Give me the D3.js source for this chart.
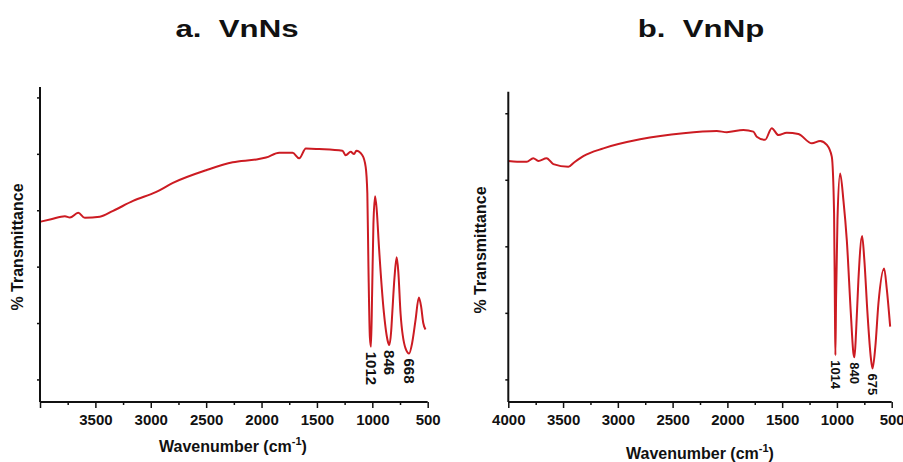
<!DOCTYPE html>
<html>
<head>
<meta charset="utf-8">
<script src="https://cdn.jsdelivr.net/npm/d3@7"></script>
<style>
  body { margin: 0; background: #fff; }
  text { font-family: "Liberation Sans", Arial, sans-serif; font-weight: bold; fill: #111; }
</style>
</head>
<body>
<svg id="chart" width="903" height="462"></svg>
<script>
// Panel a: VnNs  (wavenumber cm-1, transmittance, arbitrary units)
const wnA = [4000, 3900, 3775, 3730, 3655, 3595, 3460, 3340, 3160, 2950, 2800, 2500, 2260, 2050, 1960,
  1840, 1720, 1660, 1600, 1480, 1270, 1240, 1195, 1165, 1144, 1090, 1060, 1045, 1035, 1022, 1012,
  1002, 990, 975, 960, 940, 895, 860, 846, 830, 820, 800, 780, 765, 745, 700, 668, 640, 610, 580, 560, 540, 520];
const trA = [55.9, 56.8, 57.9, 57.4, 59.1, 57.3, 57.7, 59.8, 63.3, 66.5, 69.7, 74.2, 77.0, 78.0, 78.7,
  80.4, 80.4, 78.4, 81.9, 81.7, 81.1, 79.5, 80.7, 79.9, 81.1, 79.5, 75.4, 66.0, 40.0, 15.0, 11.6,
  30.0, 55.0, 65.0, 60.0, 47.0, 23.5, 13.5, 12.2, 17.0, 23.4, 36.0, 43.3, 38.0, 23.4, 11.0, 9.2, 13.0, 21.0, 29.1, 26.0, 20.0, 17.7];
const peaksA = [1012, 846, 668];

// Panel b: VnNp
const wnB = [4000, 3920, 3832, 3772, 3726, 3650, 3589, 3452, 3400, 3315, 3132, 2797, 2402, 2097, 2005,
  1854, 1763, 1732, 1656, 1595, 1534, 1458, 1352, 1229, 1153, 1092, 1047, 1026, 1018, 1014,
  1008, 995, 971, 940, 910, 873, 850, 840, 825, 804, 770, 750, 721, 690, 675, 650, 621, 569, 545, 514];
const trB = [82.1, 81.8, 81.8, 83.1, 82.1, 83.1, 80.9, 79.9, 81.5, 83.9, 86.8, 90.2, 92.5, 93.3, 92.9,
  93.7, 93.1, 91.2, 90.0, 94.4, 91.8, 92.7, 92.2, 88.7, 89.6, 88.1, 83.7, 62.4, 25.0, 9.1,
  30.0, 60.0, 77.4, 67.0, 52.4, 24.8, 10.0, 8.3, 18.0, 37.3, 53.9, 45.0, 24.8, 8.0, 4.1, 12.0, 28.6, 41.7, 34.0, 19.8];
const peaksB = [1014, 840, 675];

const majorTicks = [4000, 3500, 3000, 2500, 2000, 1500, 1000, 500];
const minorTicks = [3750, 3250, 2750, 2250, 1750, 1250, 750];

const svg = d3.select("#chart");

function drawPanel(p) {
  const x = d3.scaleLinear().domain([4000, 500]).range([p.left, p.right]);
  const y = d3.scaleLinear().domain(p.yDomain).range([p.bottom, p.top]);
  const g = svg.append("g");

  // title (glyphs in the original are wide, so stretch horizontally)
  g.append("text")
    .attr("transform", `translate(${p.titleX},37) scale(1.3,1)`)
    .attr("text-anchor", "middle")
    .style("font-size", "24px")
    .style("white-space", "pre")
    .text(p.title);

  // curve
  const data = p.wn.map((w, i) => ({ w: w, t: p.tr[i] }));
  g.append("path")
    .datum(data)
    .attr("fill", "none")
    .attr("stroke", "#cc1b22")
    .attr("stroke-width", 2)
    .attr("stroke-linejoin", "round")
    .attr("d", d3.line().x(d => x(d.w)).y(d => y(d.t)).curve(d3.curveMonotoneX));

  // peak labels
  p.peaks.forEach(w => {
    const i = p.wn.indexOf(w);
    g.append("text")
      .attr("transform", `translate(${x(w)},${y(p.tr[i]) + 5}) rotate(90)`)
      .attr("dy", "0.35em")
      .style("font-size", p.peakFont)
      .text(w);
  });

  // x axis
  const xAxis = g.append("g")
    .attr("transform", `translate(0,${p.bottom})`)
    .call(d3.axisBottom(x).tickValues(majorTicks).tickSize(6).tickPadding(6)
      .tickFormat(d => (d === 4000 && !p.show4000) ? "" : d));
  xAxis.select(".domain").attr("d", `M${p.left},0H${p.right}`);
  g.append("g")
    .attr("transform", `translate(0,${p.bottom})`)
    .call(d3.axisBottom(x).tickValues(minorTicks).tickSize(3).tickFormat(""))
    .select(".domain").remove();
  xAxis.selectAll("text").style("font-size", "15px").style("fill", "#111");

  // y axis
  const yAxis = g.append("g")
    .attr("transform", `translate(${p.left},0)`)
    .call(d3.axisLeft(y).tickValues(p.yTicks).tickSize(3).tickFormat(""));
  yAxis.select(".domain").attr("d", `M0,${p.top}V${p.bottom}`);

  g.selectAll(".domain").attr("stroke", "#111").attr("stroke-width", 2);
  g.selectAll(".tick line").attr("stroke", "#111").attr("stroke-width", 1.5);

  // axis labels
  g.append("text")
    .attr("transform", `translate(${p.yLabelX},${p.yLabelY}) rotate(-90)`)
    .attr("text-anchor", "middle")
    .attr("dy", "0.35em")
    .style("font-size", "16px")
    .text("% Transmittance");

  const xl = g.append("text")
    .attr("x", p.xLabelX).attr("y", p.xLabelY)
    .attr("text-anchor", "middle")
    .style("font-size", "16px");
  xl.append("tspan").text("Wavenumber (cm");
  xl.append("tspan").attr("dy", -7).style("font-size", "11px").text("-1");
  xl.append("tspan").attr("dy", 7).text(")");
}

drawPanel({
  title: "a.  VnNs", titleX: 237,
  wn: wnA, tr: trA, peaks: peaksA, peakFont: "15px",
  left: 40, right: 427.7, top: 87, bottom: 402,
  yDomain: [-8, 103.7], yTicks: [0, 20, 40, 60, 80, 100],
  show4000: false,
  yLabelX: 17, yLabelY: 247, xLabelX: 233, xLabelY: 452
});

drawPanel({
  title: "b.  VnNp", titleX: 701,
  wn: wnB, tr: trB, peaks: peaksB, peakFont: "13px",
  left: 508.3, right: 891.7, top: 91.7, bottom: 402,
  yDomain: [-8.5, 108.1], yTicks: [0, 25, 50, 75, 100],
  show4000: true,
  yLabelX: 480, yLabelY: 250, xLabelX: 700, xLabelY: 459
});
</script>
</body>
</html>
